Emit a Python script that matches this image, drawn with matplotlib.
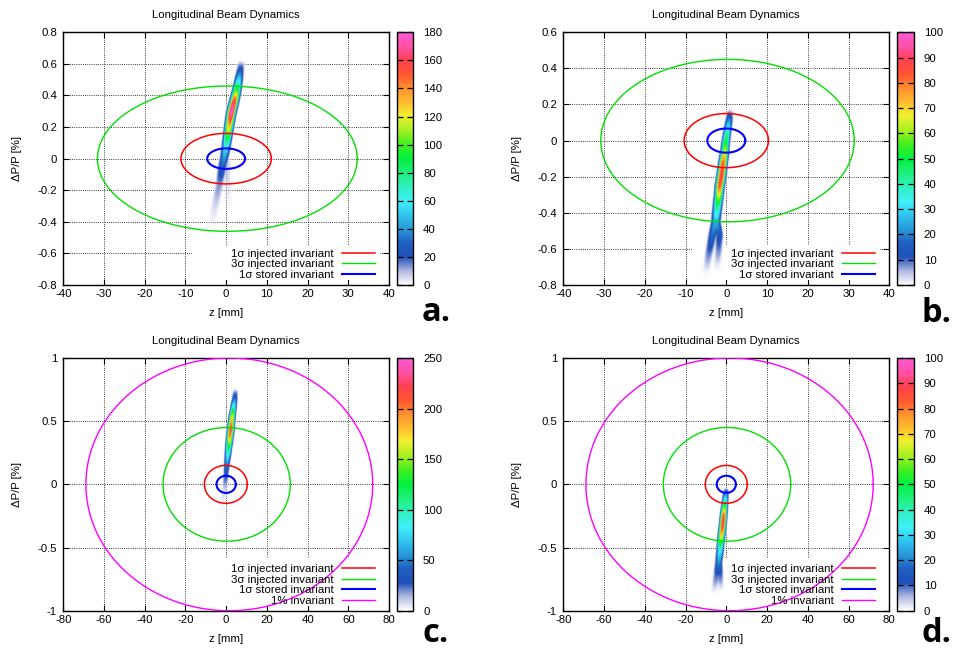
import numpy as np
import matplotlib
matplotlib.use("Agg")
import matplotlib.pyplot as plt
from matplotlib.colors import LinearSegmentedColormap, ListedColormap, Normalize
from matplotlib.patches import Rectangle
from matplotlib.cm import ScalarMappable

plt.rcParams['font.family'] = ['Liberation Sans', 'DejaVu Sans']
plt.rcParams['font.size'] = 8.2
plt.rcParams['axes.unicode_minus'] = False
FS = 8.2

# ---------------- data ----------------
title = "Longitudinal Beam Dynamics"
xlabel = "z [mm]"
ylabel = "ΔP/P [%]"
panel_letters = ["a.", "b.", "c.", "d."]

legend_labels = ["1σ injected invariant", "3σ injected invariant",
                 "1σ stored invariant", "1% invariant"]
ellipse_colors = ["#ff0000", "#00e000", "#0000ff", "#ff00ff"]
ellipse_widths = [1.1, 1.0, 1.5, 1.0]

# ellipses: centre z, semi-axis z, semi-axis dp  (order: red, green, blue, magenta)
a_ell_zc = [0.0, 0.3, 0.0]
a_ell_a = [11.1, 31.9, 4.65]
a_ell_b = [0.16, 0.46, 0.065]
b_ell_zc = [0.0, 0.3, 0.0]
b_ell_a = [10.35, 31.1, 4.66]
b_ell_b = [0.15, 0.45, 0.067]
c_ell_zc = [-0.15, 0.25, 0.0, 1.55]
c_ell_a = [10.55, 31.25, 4.75, 70.45]
c_ell_b = [0.15, 0.45, 0.068, 1.0]
d_ell_zc = [0.0, 0.35, 0.0, 1.6]
d_ell_a = [10.3, 31.25, 4.7, 70.5]
d_ell_b = [0.15, 0.45, 0.068, 1.0]

# axis ranges and ticks
ab_xticks = [-40, -30, -20, -10, 0, 10, 20, 30, 40]
cd_xticks = [-80, -60, -40, -20, 0, 20, 40, 60, 80]
a_yticks = [-0.8, -0.6, -0.4, -0.2, 0, 0.2, 0.4, 0.6, 0.8]
a_yticklabels = ["-0.8", "-0.6", "-0.4", "-0.2", "0", "0.2", "0.4", "0.6", "0.8"]
b_yticks = [-0.8, -0.6, -0.4, -0.2, 0, 0.2, 0.4, 0.6]
b_yticklabels = ["-0.8", "-0.6", "-0.4", "-0.2", "0", "0.2", "0.4", "0.6"]
cd_yticks = [-1, -0.5, 0, 0.5, 1]
cd_yticklabels = ["-1", "-0.5", "0", "0.5", "1"]
a_cbticks = [0, 20, 40, 60, 80, 100, 120, 140, 160, 180]
b_cbticks = [0, 10, 20, 30, 40, 50, 60, 70, 80, 90, 100]
c_cbticks = [0, 50, 100, 150, 200, 250]
d_cbticks = [0, 10, 20, 30, 40, 50, 60, 70, 80, 90, 100]

# beam density spines: z [mm], dp [%], density value, width (px)
a_main_z = [3.9, 3.4, 2.8, 2.0, 1.3, 0.8, 0.4, 0.0, -0.4, -0.9, -1.6, -3.2, -4.8]
a_main_dp = [0.63, 0.54, 0.45, 0.36, 0.29, 0.21, 0.14, 0.07, 0.01, -0.05, -0.16, -0.37, -0.56]
a_main_v = [0, 35, 85, 165, 180, 135, 95, 62, 42, 30, 14, 5, 0]
a_main_w = [3.0, 2.8, 2.9, 3.0, 3.0, 3.0, 3.0, 3.0, 3.0, 3.1, 3.3, 3.6, 3.6]
a_tail_z = [0.2, 0.5, 0.7]
a_tail_dp = [-0.02, -0.2, -0.36]
a_tail_v = [10, 6, 0]
a_tail_w = [3.0, 3.0, 3.0]

b_main_z = [1.1, 0.75, 0.25, -0.1, -0.35, -0.75, -1.15, -1.55, -1.8, -2.1, -2.5]
b_main_dp = [0.18, 0.11, 0.04, -0.015, -0.07, -0.126, -0.2, -0.255, -0.31, -0.366, -0.45]
b_main_v = [0, 22, 42, 52, 68, 84, 90, 84, 64, 45, 26]
b_main_w = [2.8, 2.6, 2.6, 2.7, 2.8, 2.9, 3.0, 3.0, 3.0, 3.1, 3.3]
b_left_z = [-2.5, -3.4, -4.3, -5.2]
b_left_dp = [-0.45, -0.53, -0.64, -0.77]
b_left_v = [26, 17, 8, 0]
b_left_w = [3.3, 3.0, 3.2, 3.4]
b_right_z = [-2.5, -1.6, -1.9, -2.4]
b_right_dp = [-0.45, -0.52, -0.63, -0.75]
b_right_v = [26, 15, 7, 0]
b_right_w = [3.3, 2.8, 3.0, 3.3]

c_main_z = [4.9, 4.3, 3.6, 3.0, 2.4, 1.9, 1.4, 0.9, 0.4, 0.0, -0.6, -2.2, -3.9]
c_main_dp = [0.77, 0.68, 0.60, 0.536, 0.443, 0.377, 0.31, 0.23, 0.153, 0.074, -0.03, -0.22, -0.43]
c_main_v = [0, 45, 110, 170, 218, 195, 135, 85, 48, 30, 12, 4, 0]
c_main_w = [2.3, 2.1, 2.1, 2.2, 2.3, 2.3, 2.3, 2.2, 2.1, 2.1, 2.3, 2.5, 2.6]

d_main_z = [0.3, -0.16, -0.65, -1.15, -1.6, -2.1, -2.6, -2.9, -3.6]
d_main_dp = [-0.02, -0.084, -0.164, -0.243, -0.32, -0.388, -0.454, -0.52, -0.62]
d_main_v = [0, 25, 52, 84, 90, 75, 56, 36, 21]
d_main_w = [2.1, 2.1, 2.2, 2.3, 2.3, 2.4, 2.4, 2.5, 2.6]
d_left_z = [-3.6, -4.6, -6.4]
d_left_dp = [-0.62, -0.72, -0.89]
d_left_v = [21, 10, 0]
d_left_w = [2.6, 2.7, 2.9]
d_right_z = [-3.6, -2.9, -2.4]
d_right_dp = [-0.62, -0.72, -0.87]
d_right_v = [21, 10, 0]
d_right_w = [2.6, 2.6, 2.8]

# ---------------- colour palette (gnuplot-like) ----------------
pal_pos = [0.0, 0.055, 0.11, 0.167, 0.22, 0.28, 0.33, 0.39, 0.44, 0.5, 0.555, 0.61,
           0.67, 0.72, 0.78, 0.83, 0.89, 0.94, 1.0]
pal_col = ["#ffffff", "#b0b8e0", "#2050b8", "#2060c0", "#2898d8", "#30c8f0", "#40f0f8",
           "#30f0c0", "#20f080", "#00f040", "#40f020", "#a0f020", "#f0f030", "#ffc030",
           "#ff9030", "#ff5830", "#ff4050", "#ff50a0", "#ff58d8"]
base_cmap = LinearSegmentedColormap.from_list("gp", list(zip(pal_pos, pal_col)), N=512)
rgba = base_cmap(np.linspace(0, 1, 512))
rgba[:, 3] = np.clip(np.linspace(0, 1, 512) / 0.06, 0, 1)
img_cmap = ListedColormap(rgba)

# ---------------- layout ----------------
FW, FH = 954, 650
fig = plt.figure(figsize=(FW / 100, FH / 100), dpi=100)


def frac(x0, y0, x1, y1):
    return [x0 / FW, 1 - y1 / FH, (x1 - x0) / FW, (y1 - y0) / FH]


def spine_density(X, Y, zs, dps, vs, ws, xr, yr, Wpx, Hpx):
    px = (np.array(zs) - xr[0]) / (xr[1] - xr[0]) * Wpx
    py = (np.array(dps) - yr[0]) / (yr[1] - yr[0]) * Hpx
    out = np.zeros_like(X)
    for k in range(len(zs) - 1):
        ax_, ay_ = px[k], py[k]
        dx, dy = px[k + 1] - ax_, py[k + 1] - ay_
        L2 = dx * dx + dy * dy
        t = np.clip(((X - ax_) * dx + (Y - ay_) * dy) / L2, 0, 1)
        d2 = (X - ax_ - t * dx) ** 2 + (Y - ay_ - t * dy) ** 2
        v = vs[k] + t * (vs[k + 1] - vs[k])
        s = ws[k] + t * (ws[k + 1] - ws[k])
        # slightly flat-topped transverse profile
        out = np.maximum(out, v * np.exp(-0.5 * (d2 / (s * s)) ** 1.4))
    return out


panels = [
    dict(ax=(63.3, 32.3, 389.0, 285.0), cb=(396.7, 32.3, 413.3, 285.0),
         xr=(-40, 40), yr=(-0.8, 0.8), xt=ab_xticks, yt=a_yticks, ytl=a_yticklabels,
         cbt=a_cbticks, ell=(a_ell_zc, a_ell_a, a_ell_b),
         spines=[(a_main_z, a_main_dp, a_main_v, a_main_w),
                 (a_tail_z, a_tail_dp, a_tail_v, a_tail_w)],
         letter=(421.5, 320.7), boxtop=0.156),
    dict(ax=(563.3, 32.3, 889.3, 285.0), cb=(897.3, 32.3, 914.0, 285.0),
         xr=(-40, 40), yr=(-0.8, 0.6), xt=ab_xticks, yt=b_yticks, ytl=b_yticklabels,
         cbt=b_cbticks, ell=(b_ell_zc, b_ell_a, b_ell_b),
         spines=[(b_main_z, b_main_dp, b_main_v, b_main_w),
                 (b_left_z, b_left_dp, b_left_v, b_left_w),
                 (b_right_z, b_right_dp, b_right_v, b_right_w)],
         letter=(922.0, 321.7), boxtop=0.158),
    dict(ax=(63.3, 358.0, 389.0, 610.7), cb=(396.7, 358.0, 413.3, 610.7),
         xr=(-80, 80), yr=(-1, 1), xt=cd_xticks, yt=cd_yticks, ytl=cd_yticklabels,
         cbt=c_cbticks, ell=(c_ell_zc, c_ell_a, c_ell_b),
         spines=[(c_main_z, c_main_dp, c_main_v, c_main_w)],
         letter=(422.5, 642.0), boxtop=0.207),
    dict(ax=(563.3, 358.0, 889.3, 610.7), cb=(897.3, 358.0, 914.0, 610.7),
         xr=(-80, 80), yr=(-1, 1), xt=cd_xticks, yt=cd_yticks, ytl=cd_yticklabels,
         cbt=d_cbticks, ell=(d_ell_zc, d_ell_a, d_ell_b),
         spines=[(d_main_z, d_main_dp, d_main_v, d_main_w),
                 (d_left_z, d_left_dp, d_left_v, d_left_w),
                 (d_right_z, d_right_dp, d_right_v, d_right_w)],
         letter=(922.0, 642.0), boxtop=0.207),
]

for i, p in enumerate(panels):
    x0, y0, x1, y1 = p['ax']
    Wpx, Hpx = x1 - x0, y1 - y0
    ax = fig.add_axes(frac(*p['ax']))
    ax.set_xlim(*p['xr'])
    ax.set_ylim(*p['yr'])
    ax.set_axisbelow(True)
    ax.set_xticks(p['xt'])
    ax.set_xticklabels([str(t) for t in p['xt']])
    ax.set_yticks(p['yt'])
    ax.set_yticklabels(p['ytl'])
    ax.tick_params(direction='in', top=True, right=True, length=4, width=0.8,
                   labelsize=FS, pad=3.0)
    ax.tick_params(axis='y', pad=4.5)
    ax.grid(True, color='black', linewidth=0.6, linestyle=(0, (1, 1.6)))
    for s in ax.spines.values():
        s.set_linewidth(1.0)

    # white key box hiding grid
    ax.add_patch(Rectangle((0.394, 0.02), 0.972 - 0.394, p['boxtop'] - 0.02,
                           transform=ax.transAxes, facecolor='white',
                           edgecolor='none', zorder=0.8))

    # beam density
    nx, ny = int(Wpx * 2), int(Hpx * 2)
    X, Y = np.meshgrid(np.linspace(0, Wpx, nx), np.linspace(0, Hpx, ny))
    dens = np.zeros_like(X)
    for (zs, dps, vs, ws) in p['spines']:
        dens = np.maximum(dens, spine_density(X, Y, zs, dps, vs, ws,
                                              p['xr'], p['yr'], Wpx, Hpx))
    cmax = p['cbt'][-1]
    ax.imshow(dens, extent=[p['xr'][0], p['xr'][1], p['yr'][0], p['yr'][1]],
              origin='lower', aspect='auto', interpolation='bilinear',
              cmap=img_cmap, vmin=0, vmax=cmax, zorder=1)

    # invariant ellipses
    th = np.linspace(0, 2 * np.pi, 600)
    zc, ea, eb = p['ell']
    handles = []
    for k in range(len(zc)):
        ln, = ax.plot(zc[k] + ea[k] * np.cos(th), eb[k] * np.sin(th),
                      color=ellipse_colors[k], lw=ellipse_widths[k], zorder=3)
        handles.append(ln)
    ax.legend(handles, legend_labels[:len(zc)], loc='lower right',
              bbox_to_anchor=(1 - 14 / Wpx, 5 / Hpx), bbox_transform=ax.transAxes,
              borderaxespad=0, borderpad=0, frameon=False, markerfirst=False,
              handlelength=2.9, handletextpad=0.75, labelspacing=0.05, fontsize=FS)

    # colorbar
    cax = fig.add_axes(frac(*p['cb']))
    sm = ScalarMappable(norm=Normalize(0, cmax), cmap=base_cmap)
    cb = fig.colorbar(sm, cax=cax, ticks=p['cbt'])
    cb.ax.set_yticklabels([str(t) for t in p['cbt']])
    cb.ax.tick_params(direction='in', left=True, right=True, length=4, width=0.9,
                      labelsize=FS, pad=7)
    cb.outline.set_linewidth(1.0)

    # texts
    cx = (x0 + x1) / 2
    fig.text(cx / FW, 1 - (y0 - 17.5) / FH, title, ha='center', va='center', fontsize=FS)
    fig.text(cx / FW, 1 - (y1 + 28.5) / FH, xlabel, ha='center', va='center', fontsize=FS)
    fig.text((x0 - 46.5) / FW, 1 - ((y0 + y1) / 2) / FH, ylabel, rotation=90,
             ha='center', va='center', fontsize=FS)
    lx, ly = p['letter']
    fig.text(lx / FW, 1 - ly / FH, panel_letters[i], ha='left', va='baseline',
             fontsize=23.5, fontweight='bold', family=['Open Sans', 'DejaVu Sans'])

fig.savefig("out.png", dpi=100)
